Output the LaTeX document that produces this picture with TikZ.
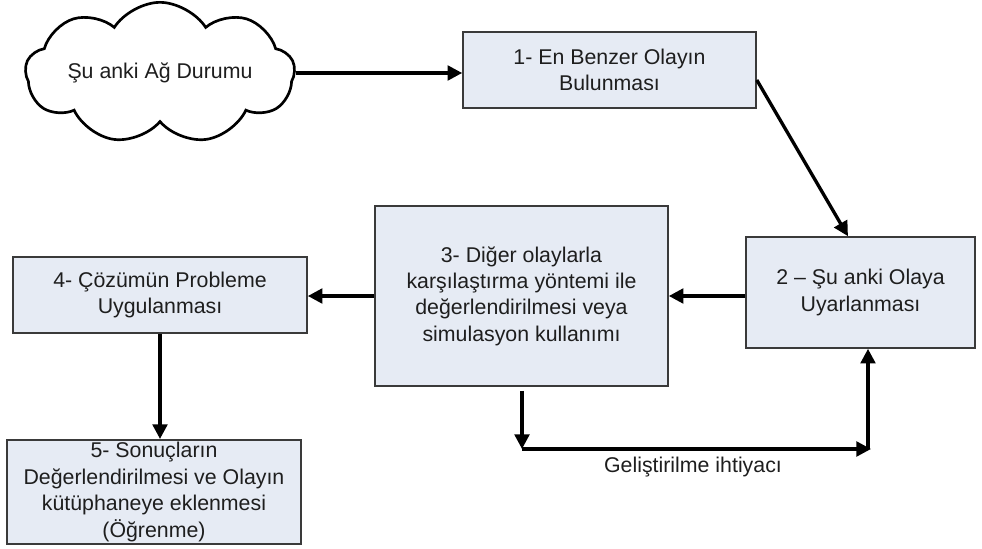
\documentclass[tikz,border=0pt]{standalone}
\usepackage{fontspec}
\setmainfont{Liberation Sans}
\usetikzlibrary{shapes.symbols,arrows.meta}
\definecolor{boxfill}{HTML}{E6EBF4}
\definecolor{boxline}{HTML}{3A3A3A}
\definecolor{txt}{HTML}{1E1E1E}
\tikzset{
  labelfont/.style={font=\fontsize{16}{19.8}\selectfont, text=txt},
  stepbox/.style={draw=boxline, line width=1.2pt, fill=boxfill, align=center,
    labelfont, inner sep=2pt},
  flow/.style={draw=black, line width=2.5pt,
    -{Triangle[length=11pt,width=11pt]}}
}
\begin{document}
\begin{tikzpicture}[x=0.75pt,y=-0.75pt]
\useasboundingbox (0,0) rectangle (982,549);

% current network state
\node[cloud, cloud puffs=9, cloud puff arc=115, cloud ignores aspect,
  inner sep=0pt, draw=black, line width=2pt, fill=white,
  minimum width=202pt, minimum height=106pt, labelfont] (cl) at (160,73)
  {Şu anki Ağ Durumu};

% process steps
\node[stepbox, minimum width=219.75pt, minimum height=57pt] (b1) at (609.5,70)
  {1- En Benzer Olayın\\Bulunması};
\node[stepbox, minimum width=171.75pt, minimum height=83.25pt] (b2) at (860.5,292.5)
  {2 – Şu anki Olaya\\Uyarlanması};
\node[stepbox, minimum width=219.75pt, minimum height=135pt] (b3) at (521.5,296)
  {3- Diğer olaylarla\\karşılaştırma yöntemi ile\\değerlendirilmesi veya\\simulasyon kullanımı};
\node[stepbox, minimum width=220.5pt, minimum height=57pt] (b4) at (160,295)
  {4- Çözümün Probleme\\Uygulanması};
\node[stepbox, minimum width=220.5pt, minimum height=76.5pt] (b5) at (154,492)
  {5- Sonuçların\\Değerlendirilmesi ve Olayın\\kütüphaneye eklenmesi\\(Öğrenme)};

% main flow
\draw[flow] (cl.east) -- (cl.east -| b1.west);
\draw[flow] ([yshift=-7.5pt]b1.east) -- ([xshift=-9.4pt]b2.north);
\draw[flow] (b2.west |- b3.east) -- (b3.east);
\draw[flow] (b3.west) -- (b3.west -| b4.east);
\draw[flow] (b4.south) -- (b4.south |- b5.north);

% improvement loop
\coordinate (dn) at (522,449);
\coordinate (rt) at (871,449);
\coordinate (up) at (868,449);
\draw[flow] ([yshift=-3pt]b3.south -| dn) -- (dn);
\draw[flow] (dn) -- (rt);
\draw[flow] (up) -- (up |- b2.south);
\node[labelfont] (lbl) at (693,467) {Geliştirilme ihtiyacı};
\end{tikzpicture}
\end{document}
